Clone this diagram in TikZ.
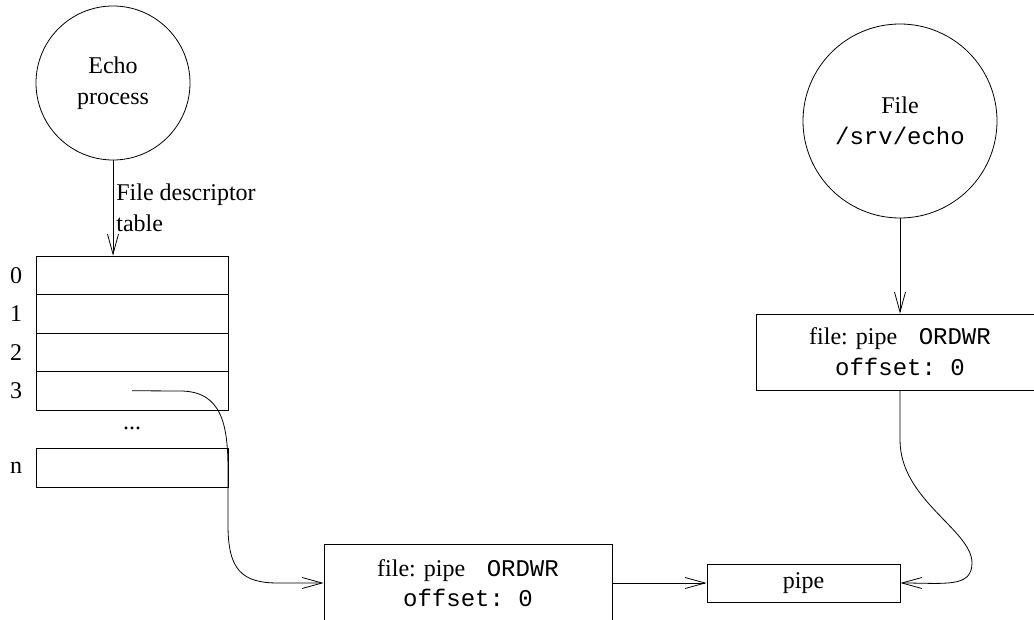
\documentclass[tikz,border=0pt]{standalone}
\usepackage{fontspec}
\setmainfont{Liberation Serif}
\setmonofont{Liberation Mono}
\usetikzlibrary{arrows.meta}
\begin{document}
\begin{tikzpicture}[x=1pt,y=-1pt,
  every node/.style={font=\fontsize{24}{31}\selectfont},
  line/.style={line width=0.8pt},
  arr/.style={line, -{Straight Barb[length=20pt,width=11pt,line width=0.8pt]}},
  bubble/.style={draw, line width=0.8pt, circle, inner sep=0pt, align=center},
  cell/.style={draw, line width=0.8pt, rectangle, minimum width=192pt, minimum height=38.5pt, inner sep=0pt},
  rec/.style={draw, line width=0.8pt, rectangle, minimum width=288pt, minimum height=76pt, inner sep=0pt, align=center},
  idx/.style={inner sep=0pt}
]
\useasboundingbox (0,0) rectangle (1034,620);
\fill[white] (0,0) rectangle (1034,620);

% Echo process
\node[bubble, minimum size=154pt] (echo) at (113,83) {Echo\\process};

% File descriptor table
\node[cell] (r0) at (132,275.25) {};
\node[cell] (r1) at (132,313.75) {};
\node[cell] (r2) at (132,352.25) {};
\node[cell] (r3) at (132,390.75) {};
\node (dots) at (132,428) {...};
\node[cell, minimum height=39pt] (rn) at (132,467.5) {};

\node[idx] (l0) at (16,275.25) {0};
\node[idx] (l1) at (16,313.75) {1};
\node[idx] (l2) at (16,352.25) {2};
\node[idx] (l3) at (16,390.75) {3};
\node[idx] (ln) at (16,467.5) {n};

\draw[arr] (echo.south) -- (echo.south |- r0.north)
  node[pos=0.5, right=3pt, align=left, inner sep=0pt] (fdt) {File descriptor\\table};

% File /srv/echo
\node[bubble, minimum size=194pt] (file) at (900,121) {File\\\texttt{/srv/echo}};

\node[rec] (box2) at (900,352) {file: pipe\hspace{0.9em}\texttt{ORDWR}\\\texttt{offset: 0}};
\draw[arr] (file.south) -- (box2.north);

% bottom
\node[rec, minimum height=78pt] (box1) at (468,583) {file: pipe\hspace{0.9em}\texttt{ORDWR}\\[-1pt]\texttt{offset: 0}};
\node[draw, line width=0.8pt, rectangle, minimum width=193pt, minimum height=38pt, inner sep=0pt] (pipe) at (803.5,583) {pipe};

\coordinate (c3) at (180,391);
\draw[arr] (r3.center) -- (c3) .. controls (222,391) and (228,425) .. (228,470)
  -- (228,525) .. controls (228,570) and (242,583) .. (278,583) -- (box1.west);

\draw[arr] (box1.east) -- (pipe.west);

\coordinate (d1) at (900,440);
\draw[arr] (box2.south) -- (d1) .. controls (900,500) and (972,530) .. (972,563)
  .. controls (972,588) and (945,583) .. (pipe.east);
\end{tikzpicture}
\end{document}
